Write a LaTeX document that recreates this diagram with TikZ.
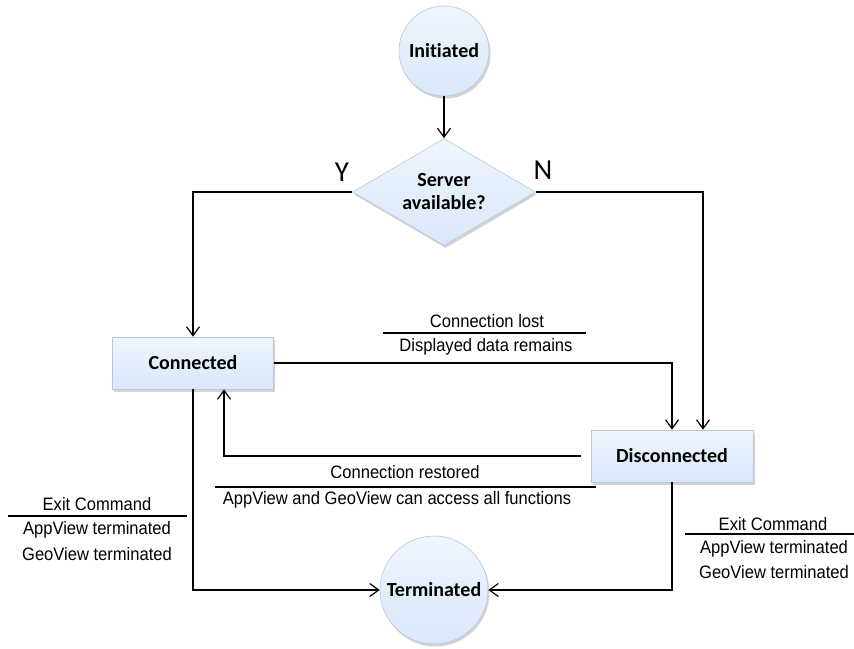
\documentclass[tikz,border=0pt]{standalone}
\usepackage{fontspec}
\setmainfont{Liberation Sans}
\newfontfamily\nodefont[Ligatures=NoCommon]{Carlito}
\newfontfamily\labfont[FakeStretch=0.92]{Liberation Sans}
\usetikzlibrary{shapes.geometric,arrows.meta,shadows}
\definecolor{nodeblue}{RGB}{218,232,250}
\definecolor{nodetop}{RGB}{238,245,253}
\definecolor{nodeedge}{RGB}{185,200,222}
\begin{document}
\begin{tikzpicture}[x=1pt,y=-1pt,
  statenode/.style={top color=nodetop, bottom color=nodeblue, draw=nodeedge, line width=0.6pt,
    drop shadow={shadow xshift=1.5pt, shadow yshift=-2.5pt, opacity=0.35},
    font=\nodefont\bfseries\fontsize{20}{23}\selectfont, align=center, inner sep=0pt},
  statecircle/.style={statenode, circle},
  statebox/.style={statenode, rectangle, minimum width=161pt, minimum height=52pt},
  decision/.style={statenode, diamond, minimum width=183pt, minimum height=107pt, aspect=1.71},
  arr/.style={-{Straight Barb[length=9pt,width=13pt]}, line width=1.2pt},
  rule/.style={line width=1.2pt},
  lab/.style={font=\labfont\fontsize{18}{20}\selectfont, inner sep=0pt, anchor=center},
  yn/.style={font=\nodefont\fontsize{29}{32}\selectfont, inner sep=0pt}
]
\useasboundingbox (0,0) rectangle (854,648);

% states
\node[statecircle, minimum size=90pt] (init) at (444,51) {Initiated};
\node[decision] (dec) at (444,192) {Server\\available?};
\node[statebox] (conn) at (193,363) {Connected};
\node[statebox, minimum width=162pt] (disc) at (672,456) {Disconnected};
\node[statecircle, minimum size=108pt] (term) at (434,590) {Terminated};

% Y / N
\node[yn] (ylab) at (342,172) {Y};
\node[yn] (nlab) at (543,170) {N};

% connectors
\draw[arr] (init.south) -- (dec.north);
\draw[arr] (dec.west) -| (conn.north);
\draw[arr] (dec.east) -| ([xshift=31pt]disc.north);
\draw[arr] (conn.east) -| (disc.north);
\draw[arr] ([xshift=-10pt]disc.west) -| ([xshift=31pt]conn.south);
\draw[arr] (conn.south) |- (term.west);
\draw[arr] (disc.south) |- (term.east);

% label: connection lost
\node[lab] (lostA) at (487,321) {Connection lost};
\coordinate (lostL) at (383,333);
\coordinate (lostR) at (586,333);
\draw[rule] (lostL) -- (lostR);
\node[lab] (lostB) at (486,347) {Displayed data remains};

% label: connection restored
\node[lab] (restA) at (405,472) {Connection restored};
\coordinate (restL) at (215,487);
\coordinate (restR) at (596,487);
\draw[rule] (restL) -- (restR);
\node[lab] (restB) at (397,500) {AppView and GeoView can access all functions};

% label: exit left
\node[lab] (exlA) at (97,504) {Exit Command};
\coordinate (exlL) at (8,516);
\coordinate (exlR) at (187,516);
\draw[rule] (exlL) -- (exlR);
\node[lab] (exlB) at (97,530) {AppView terminated};
\node[lab] (exlC) at (97,554) {GeoView terminated};

% label: exit right
\node[lab] (exrA) at (773,524) {Exit Command};
\coordinate (exrL) at (685,534);
\coordinate (exrR) at (854,534);
\draw[rule] (exrL) -- (exrR);
\node[lab] (exrB) at (774,549) {AppView terminated};
\node[lab] (exrC) at (774,572) {GeoView terminated};
\end{tikzpicture}
\end{document}
